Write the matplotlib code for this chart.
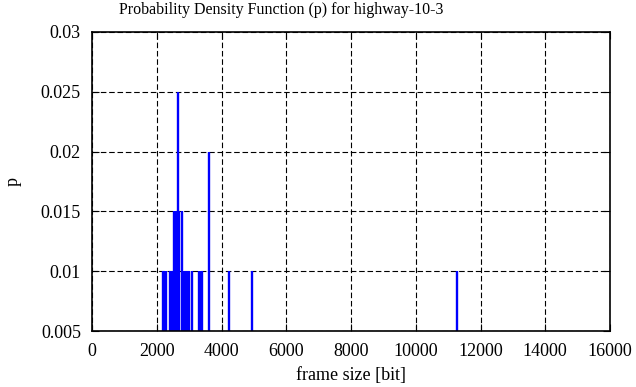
import numpy as np
import matplotlib
matplotlib.use('Agg')
import matplotlib.pyplot as plt

# frame sizes [bit] and their probabilities
frame_sizes = [2200, 2250, 2300, 2410, 2460, 2510, 2540, 2590, 2650, 2700,
               2775, 2830, 2880, 2930, 2980, 3010, 3085, 3300, 3350, 3400,
               3610, 4230, 4945, 11265]
probs = [0.01, 0.01, 0.01, 0.01, 0.01, 0.01, 0.015, 0.015, 0.025, 0.015,
         0.015, 0.01, 0.01, 0.01, 0.01, 0.01, 0.01, 0.01, 0.01, 0.01,
         0.02, 0.01, 0.01, 0.01]
x_ticks = [0, 2000, 4000, 6000, 8000, 10000, 12000, 14000, 16000]
y_ticks = [0.005, 0.01, 0.015, 0.02, 0.025, 0.03]
y_tick_labels = ['0.005', '0.01', '0.015', '0.02', '0.025', '0.03']

plt.rcParams['font.family'] = ['Liberation Serif', 'DejaVu Serif']
plt.rcParams['font.size'] = 13

W, H = 636, 387
fig = plt.figure(figsize=(W / 100, H / 100), dpi=100)
ax = fig.add_axes([92 / W, (H - 331) / H, (610 - 92) / W, (331 - 32) / H])

ax.vlines(frame_sizes, 0, probs, colors='#0000ff', linewidth=1.7, zorder=3)

ax.set_xlim(0, 16000)
ax.set_ylim(0.005, 0.03)
ax.set_xticks(x_ticks)
ax.set_yticks(y_ticks)
ax.set_yticklabels(y_tick_labels)
ax.grid(True, color='black', linestyle=(0, (5, 2.5)), linewidth=0.8)
ax.tick_params(direction='in', top=True, right=True, length=5, width=0.8)
ax.tick_params(axis='x', pad=9)
ax.tick_params(axis='y', pad=8)
for s in ax.spines.values():
    s.set_linewidth(1.2)
    s.set_zorder(4)

fig.text(281 / W, 1 - 10 / H, 'Probability Density Function (p) for highway-10-3',
         ha='center', va='center', fontsize=11.5)
ax.set_xlabel('frame size [bit]', labelpad=5)
fig.text(13 / W, 1 - 181 / H, 'p', rotation=90, ha='center', va='center')

fig.savefig('out.png', dpi=100)
